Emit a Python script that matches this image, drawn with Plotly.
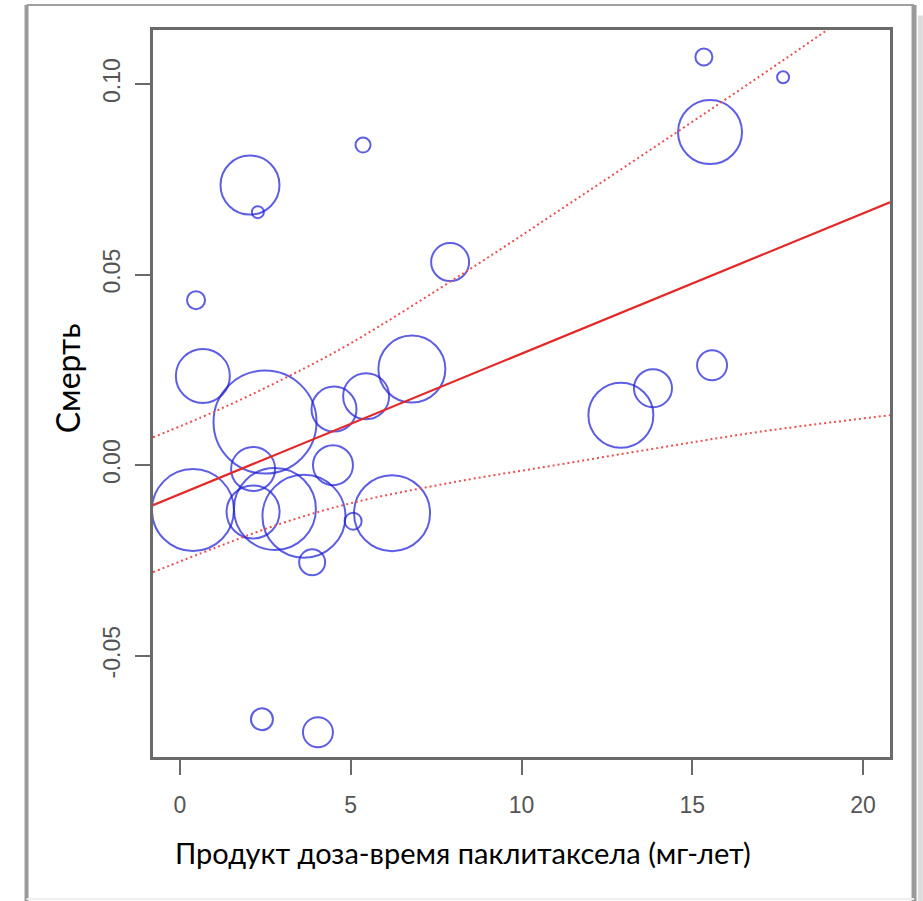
import plotly.graph_objects as go

# ---- data ----
dose_time = [0.47, 0.67, 0.38, 2.05, 2.28, 2.49, 2.14, 2.14, 2.78, 3.63,
             3.87, 4.48, 4.51, 5.07, 5.45, 5.36, 6.21, 6.79, 7.91, 2.40,
             4.04, 12.91, 13.85, 15.58, 15.52, 15.34, 17.66]
mortality = [0.0433, 0.0234, -0.0118, 0.0735, 0.0664, 0.0113, -0.0010, -0.0123, -0.0115, -0.0134,
             -0.0255, 0.0000, 0.0147, -0.0147, 0.0181, 0.0840, -0.0126, 0.0252, 0.0533, -0.0667,
             -0.0701, 0.0131, 0.0202, 0.0262, 0.0874, 0.1071, 0.1018]
weight = [18, 54, 82, 59, 12, 103, 44, 53, 82, 83,
          26, 40, 45, 17, 46, 15, 76, 67, 38, 22,
          30, 65, 38, 30, 64, 17, 12]

fit_x = [-0.79, 20.79]
fit_y = [-0.0105, 0.0690]

ci_upper_x = [-0.79, 1.0, 3.0, 5.0, 8.5, 11.5, 14.55, 17.0, 18.95, 20.79]
ci_upper_y = [0.0073, 0.0140, 0.0225, 0.0320, 0.0515, 0.0692, 0.0874, 0.1022, 0.1142, 0.1256]
ci_lower_x = [-0.79, 1.0, 3.0, 5.0, 8.0, 11.0, 14.0, 17.0, 20.79]
ci_lower_y = [-0.0281, -0.0218, -0.0152, -0.0100, -0.0045, 0.0000, 0.0045, 0.0088, 0.0131]

x_ticks = [0, 5, 10, 15, 20]
x_tick_labels = ["0", "5", "10", "15", "20"]
y_ticks = [-0.05, 0.0, 0.05, 0.10]
y_tick_labels = ["-0.05", "0.00", "0.05", "0.10"]

x_title = "Продукт доза-время паклитаксела (мг-лет)"
y_title = "Смерть"

# ---- figure ----
fig = go.Figure()

fig.add_trace(go.Scatter(
    x=dose_time, y=mortality, mode="markers",
    marker=dict(symbol="circle-open", size=weight, color="rgb(25,25,215)",
                line=dict(width=2)),
    cliponaxis=True, showlegend=False, hoverinfo="skip"))

fig.add_trace(go.Scatter(
    x=ci_upper_x, y=ci_upper_y, mode="lines", line_shape="spline",
    line=dict(color="rgb(235,80,80)", width=2, dash="2px,3px"),
    showlegend=False, hoverinfo="skip"))
fig.add_trace(go.Scatter(
    x=ci_lower_x, y=ci_lower_y, mode="lines", line_shape="spline",
    line=dict(color="rgb(235,80,80)", width=2, dash="2px,3px"),
    showlegend=False, hoverinfo="skip"))
fig.add_trace(go.Scatter(
    x=fit_x, y=fit_y, mode="lines",
    line=dict(color="rgb(228,40,40)", width=2.2),
    showlegend=False, hoverinfo="skip"))

axis_common = dict(
    showline=True, mirror=True, linewidth=2.5, linecolor="#6a6a6a",
    ticks="outside", ticklen=15, tickwidth=2, tickcolor="#6a6a6a",
    showgrid=False, zeroline=False,
    tickfont=dict(family="Liberation Sans, Arial, sans-serif", size=23, color="#555555"),
)

fig.update_layout(
    width=923, height=901,
    margin=dict(l=153, r=33, t=30, b=144),
    paper_bgcolor="white", plot_bgcolor="white",
    xaxis=dict(range=[-0.79, 20.79], tickvals=x_ticks, ticktext=x_tick_labels,
               ticklabelstandoff=11, **axis_common),
    yaxis=dict(range=[-0.0766, 0.1142], tickvals=y_ticks, ticktext=y_tick_labels,
               tickangle=-90, ticklabelstandoff=6, **axis_common),
    annotations=[
        dict(text=x_title, xref="paper", yref="paper", x=0.42, y=-0.132,
             xanchor="center", yanchor="middle", showarrow=False,
             font=dict(family="Lato, Open Sans, sans-serif", size=29, color="black")),
        dict(text=y_title, xref="paper", yref="paper", x=-0.1167, y=0.521,
             xanchor="center", yanchor="middle", showarrow=False, textangle=-90,
             font=dict(family="Lato, Open Sans, sans-serif", size=32, color="black")),
    ],
    shapes=[
        # outer frame of the figure image
        dict(type="line", xref="paper", yref="paper", x0=-0.1716, x1=-0.1716, y0=-0.2, y1=1.0344,
             line=dict(color="#9a9a9a", width=4)),
        dict(type="line", xref="paper", yref="paper", x0=-0.1716, x1=1.0326, y0=1.0344, y1=1.0344,
             line=dict(color="#a0a0a0", width=2)),
        dict(type="line", xref="paper", yref="paper", x0=1.0326, x1=1.0326, y0=-0.2, y1=1.0344,
             line=dict(color="#9a9a9a", width=5)),
        dict(type="line", xref="paper", yref="paper", x0=1.0412, x1=1.0412, y0=-0.2, y1=1.02,
             line=dict(color="#dcdcdc", width=5)),
        dict(type="line", xref="paper", yref="paper", x0=-0.1716, x1=1.0326, y0=-0.1953, y1=-0.1953,
             line=dict(color="#eeeeee", width=2)),
    ],
)

fig.write_html("out.html")
